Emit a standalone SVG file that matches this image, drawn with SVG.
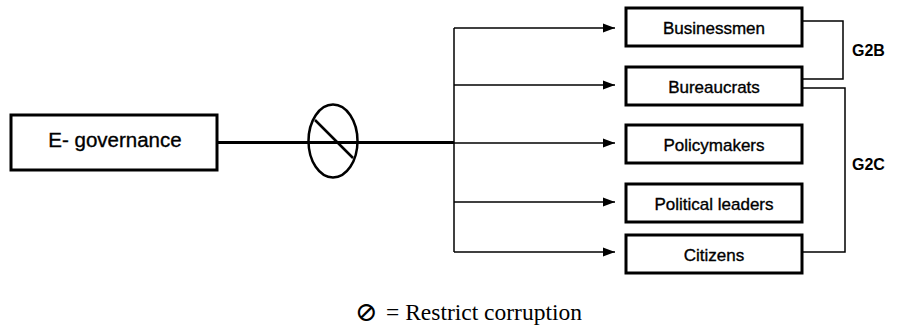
<svg xmlns="http://www.w3.org/2000/svg" width="898" height="329" viewBox="0 0 898 329">
<style>
.box{fill:#fff;stroke:#000;stroke-width:3}
.lbl{font-family:"Liberation Sans",Arial,sans-serif;font-size:17px;text-anchor:middle;fill:#000;stroke:#000;stroke-width:0.35}
.thin{fill:none;stroke:#000;stroke-width:1.5}
.grp{font-family:"Liberation Sans",Arial,sans-serif;font-weight:bold;font-size:16px;fill:#000}
</style>
<defs>
<marker id="ah" viewBox="0 0 12 10" refX="12" refY="5" markerWidth="12" markerHeight="10" markerUnits="userSpaceOnUse" orient="auto">
<path d="M0,0.5 L12,5 L0,9.5 Z" fill="#000"/>
</marker>
</defs>
<rect width="898" height="329" fill="#fff"/>
<g id="connectors">
<line x1="217" y1="142.5" x2="454" y2="142.5" stroke="#000" stroke-width="3"/>
<line class="thin" x1="454" y1="28" x2="454" y2="252"/>
<line class="thin" x1="454" y1="28" x2="615" y2="28" marker-end="url(#ah)"/>
<line class="thin" x1="454" y1="85" x2="615" y2="85" marker-end="url(#ah)"/>
<line class="thin" x1="454" y1="143" x2="615" y2="143" marker-end="url(#ah)"/>
<line class="thin" x1="454" y1="202" x2="615" y2="202" marker-end="url(#ah)"/>
<line class="thin" x1="454" y1="252" x2="615" y2="252" marker-end="url(#ah)"/>
<polyline class="thin" points="802,21 843,21 843,79 802,79"/>
<polyline class="thin" points="802,88 845,88 845,252 802,252"/>
</g>
<g id="restrict">
<ellipse cx="333" cy="141" rx="24.5" ry="36.5" fill="none" stroke="#000" stroke-width="2.5"/>
<line x1="315" y1="120" x2="353" y2="158" stroke="#000" stroke-width="2.5"/>
</g>
<g id="egov">
<rect class="box" x="11" y="115" width="206" height="55"/>
<text class="lbl" x="115" y="146.5" style="font-size:20.5px">E- governance</text>
</g>
<g id="businessmen">
<rect class="box" x="626" y="8" width="176" height="38"/>
<text class="lbl" x="714" y="33.5">Businessmen</text>
</g>
<g id="bureaucrats">
<rect class="box" x="626" y="67" width="176" height="38"/>
<text class="lbl" x="714" y="92.5">Bureaucrats</text>
</g>
<g id="policymakers">
<rect class="box" x="626" y="125" width="176" height="38"/>
<text class="lbl" x="714" y="150.5">Policymakers</text>
</g>
<g id="political">
<rect class="box" x="626" y="184" width="176" height="38"/>
<text class="lbl" x="714" y="209.5">Political leaders</text>
</g>
<g id="citizens">
<rect class="box" x="626" y="235" width="176" height="38"/>
<text class="lbl" x="714" y="260.5">Citizens</text>
</g>
<g id="groups">
<text class="grp" x="852" y="56">G2B</text>
<text class="grp" x="852" y="170">G2C</text>
</g>
<g id="legend">
<text x="355" y="321" font-family="DejaVu Serif,DejaVu Sans,serif" font-size="27">⊘</text>
<text x="386" y="319.5" font-family="Liberation Serif,Times New Roman,serif" font-size="23.5">= Restrict corruption</text>
</g>
</svg>
